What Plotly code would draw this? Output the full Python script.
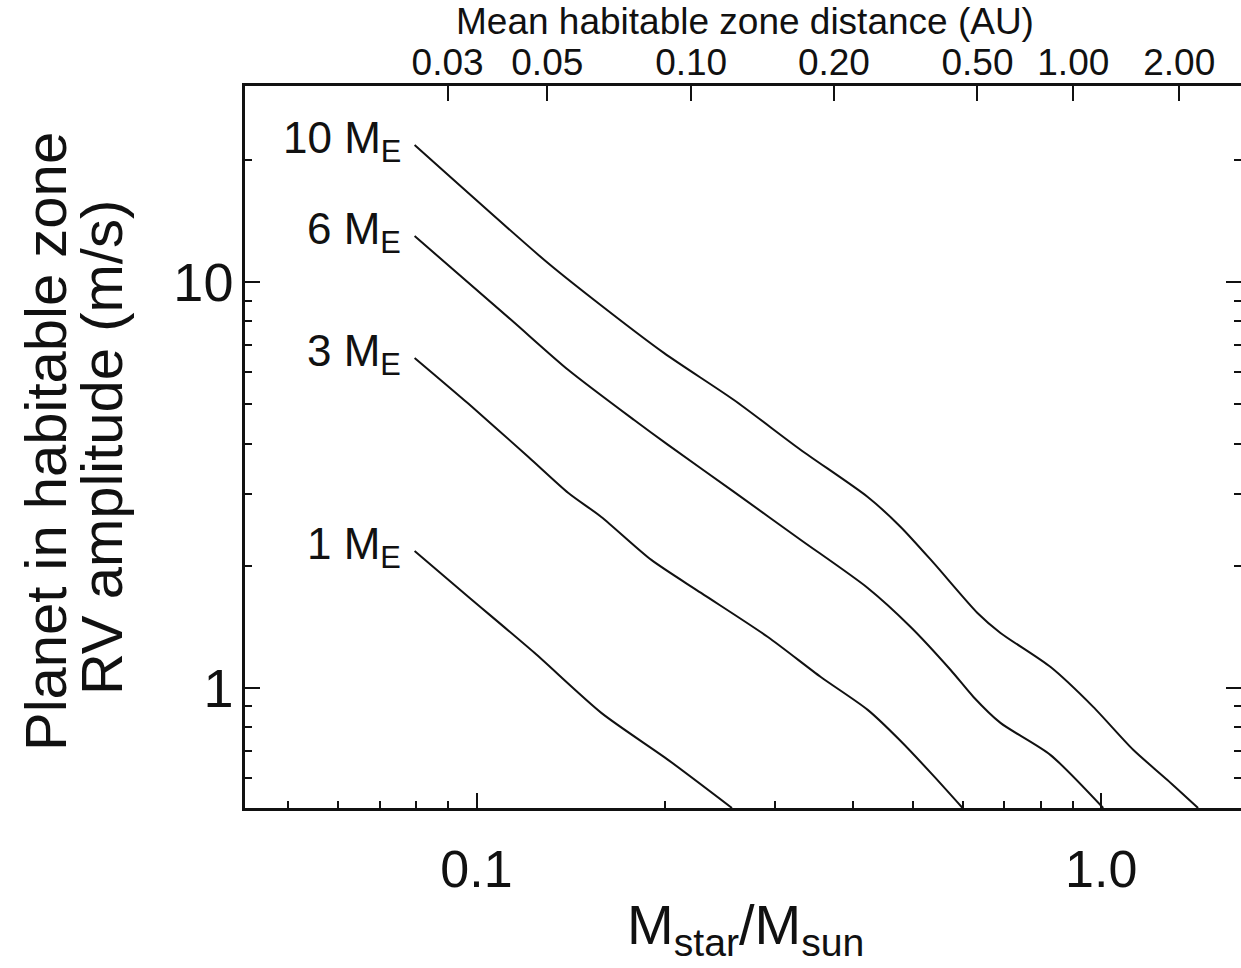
import numpy as np
import plotly.graph_objects as go

# Stellar mass (M_star / M_sun) and habitable-zone RV semi-amplitude (m/s) for each planet mass
mass_10 = [0.0796, 0.1284, 0.1543, 0.1997, 0.2583, 0.3305, 0.4229, 0.4775, 0.5391,
           0.6337, 0.6898, 0.8289, 0.9709, 1.125, 1.275, 1.429]
rv_10 = [21.75, 11.33, 9.03, 6.68, 5.12, 3.857, 2.954, 2.492, 2.032,
         1.530, 1.366, 1.127, 0.898, 0.704, 0.594, 0.506]

mass_6 = [0.0796, 0.1137, 0.1403, 0.1788, 0.2026, 0.2583, 0.3305, 0.4229, 0.4954,
          0.5741, 0.6245, 0.6898, 0.8289, 1.0074]
rv_6 = [12.98, 8.06, 6.07, 4.57, 3.97, 3.04, 2.315, 1.763, 1.413,
        1.107, 0.950, 0.820, 0.684, 0.506]

mass_3 = [0.0796, 0.0971, 0.1211, 0.1403, 0.1584, 0.1905, 0.2288, 0.2927, 0.3557,
          0.4229, 0.4775, 0.5391, 0.5998]
rv_3 = [6.50, 5.01, 3.707, 3.022, 2.638, 2.067, 1.714, 1.335, 1.064,
        0.883, 0.740, 0.607, 0.506]

mass_1 = [0.0796, 0.0971, 0.1238, 0.1584, 0.2026, 0.2564]
rv_1 = [2.175, 1.675, 1.22, 0.868, 0.665, 0.506]

curve_labels = ["10 M<sub>E</sub>", "6 M<sub>E</sub>", "3 M<sub>E</sub>", "1 M<sub>E</sub>"]

# Top axis: mean habitable-zone distance and the stellar mass where it occurs
hz_distance_au = ["0.03", "0.05", "0.10", "0.20", "0.50", "1.00", "2.00"]
hz_star_mass = [0.0899, 0.1298, 0.2206, 0.3733, 0.6337, 0.9021, 1.333]

x_ticks = [0.1, 1.0]
x_tick_text = ["0.1", "1.0"]
y_ticks = [1, 10]
y_tick_text = ["1", "10"]
x_minor = [0.05, 0.06, 0.07, 0.08, 0.09, 0.2, 0.3, 0.4, 0.5, 0.6, 0.7, 0.8, 0.9]
y_minor = [0.6, 0.7, 0.8, 0.9, 2, 3, 4, 5, 6, 7, 8, 9, 20]

x_lim = [0.0426, 1.674]
y_lim = [0.506, 30.4]

FONT = "Liberation Sans, Arial, Helvetica, sans-serif"
INK = "#111111"

fig = go.Figure()
series = [(mass_10, rv_10), (mass_6, rv_6), (mass_3, rv_3), (mass_1, rv_1)]
for (m, k), lab in zip(series, curve_labels):
    fig.add_trace(go.Scatter(x=m, y=k, mode="lines",
                             line=dict(color=INK, width=2, shape="spline", smoothing=0.7),
                             showlegend=False, hoverinfo="skip"))
    fig.add_annotation(x=np.log10(m[0]), y=np.log10(k[0]), xref="x", yref="y",
                       text=lab, showarrow=False, xanchor="right", yanchor="middle",
                       xshift=-12, yshift=4, font=dict(family=FONT, size=44, color=INK))

# companion trace so the top and right axes are drawn
fig.add_trace(go.Scatter(x=[None], y=[None], xaxis="x2", yaxis="y2",
                         showlegend=False, hoverinfo="skip"))

xr = [np.log10(x_lim[0]), np.log10(x_lim[1])]
yr = [np.log10(y_lim[0]), np.log10(y_lim[1])]

fig.update_layout(
    width=1241, height=968,
    margin=dict(l=245, r=0, t=86, b=160),
    paper_bgcolor="white", plot_bgcolor="white",
    font=dict(family=FONT, color=INK),
    xaxis=dict(type="log", range=xr, showgrid=False, zeroline=False,
               showline=True, linecolor=INK, linewidth=2.5,
               ticks="inside", ticklen=15, tickwidth=2, tickcolor=INK,
               tickmode="array", tickvals=x_ticks, ticktext=x_tick_text,
               tickfont=dict(size=52, family=FONT, color=INK), ticklabelstandoff=14,
               minor=dict(ticks="inside", ticklen=7, tickwidth=2, tickcolor=INK,
                          tickmode="array", tickvals=x_minor, showgrid=False)),
    yaxis=dict(type="log", range=yr, showgrid=False, zeroline=False,
               showline=True, linecolor=INK, linewidth=2.5,
               ticks="inside", ticklen=15, tickwidth=2, tickcolor=INK,
               tickmode="array", tickvals=y_ticks, ticktext=y_tick_text,
               tickfont=dict(size=54, family=FONT, color=INK), ticklabelstandoff=-2,
               minor=dict(ticks="inside", ticklen=7, tickwidth=2, tickcolor=INK,
                          tickmode="array", tickvals=y_minor, showgrid=False)),
    xaxis2=dict(type="log", range=xr, overlaying="x", side="top", anchor="y",
                showgrid=False, zeroline=False, showline=True, linecolor=INK, linewidth=2.5,
                ticks="inside", ticklen=15, tickwidth=2, tickcolor=INK,
                tickmode="array", tickvals=hz_star_mass, ticktext=hz_distance_au,
                tickfont=dict(size=37, family=FONT, color=INK), ticklabelstandoff=-7),
    yaxis2=dict(type="log", range=yr, overlaying="y", side="right", anchor="x",
                showgrid=False, zeroline=False, showline=False,
                ticks="inside", ticklen=15, tickwidth=2, tickcolor=INK,
                tickmode="array", tickvals=y_ticks, showticklabels=False,
                minor=dict(ticks="inside", ticklen=7, tickwidth=2, tickcolor=INK,
                           tickmode="array", tickvals=y_minor, showgrid=False)),
)

# axis titles
fig.add_annotation(xref="paper", yref="paper", x=(745 - 245) / 996, y=(808 - 22) / 722,
                   text="Mean habitable zone distance (AU)", showarrow=False,
                   xanchor="center", yanchor="middle",
                   font=dict(family=FONT, size=37, color=INK))
fig.add_annotation(xref="paper", yref="paper", x=(745 - 245) / 996, y=(808 - 928) / 722,
                   text="M<sub>star</sub>/M<sub>sun</sub>", showarrow=False,
                   xanchor="center", yanchor="middle",
                   font=dict(family=FONT, size=56, color=INK))
fig.add_annotation(xref="paper", yref="paper", x=(46 - 245) / 996, y=(808 - 442) / 722,
                   text="Planet in habitable zone", showarrow=False, textangle=-90,
                   xanchor="center", yanchor="middle",
                   font=dict(family=FONT, size=58, color=INK))
fig.add_annotation(xref="paper", yref="paper", x=(101 - 245) / 996, y=(808 - 448) / 722,
                   text="RV amplitude (m/s)", showarrow=False, textangle=-90,
                   xanchor="center", yanchor="middle",
                   font=dict(family=FONT, size=58, color=INK))

fig.write_html("out.html")
